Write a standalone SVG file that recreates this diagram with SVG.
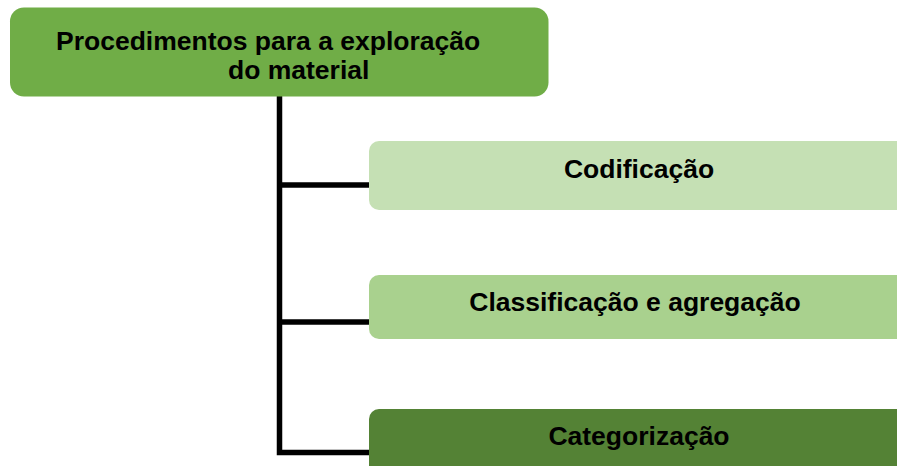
<svg xmlns="http://www.w3.org/2000/svg" width="897" height="466" viewBox="0 0 897 466">
<style>
.t{font-family:"Liberation Sans",Arial,sans-serif;font-weight:bold;font-size:26.5px;fill:#000}
.c{fill:none;stroke:#000;stroke-width:5.5}
</style>
<rect width="897" height="466" fill="#fff"/>
<g id="connectors">
<path class="c" d="M279.5 96 V452.5 H372"/>
<path class="c" d="M279.5 185 H372"/>
<path class="c" d="M279.5 322 H372"/>
</g>
<g id="root">
<rect x="10" y="7.5" width="538.5" height="89" rx="14" fill="#70AD47"/>
<text class="t" x="56" y="49.5">Procedimentos para a exploração</text>
<text class="t" x="228" y="79">do material</text>
</g>
<g id="n1">
<rect x="369" y="141" width="560" height="69" rx="10" fill="#C5E0B4"/>
<text class="t" x="639" y="178" text-anchor="middle">Codificação</text>
</g>
<g id="n2">
<rect x="369" y="275" width="560" height="64" rx="10" fill="#A9D18E"/>
<text class="t" x="635" y="311" text-anchor="middle">Classificação e agregação</text>
</g>
<g id="n3">
<rect x="369" y="409" width="560" height="80" rx="10" fill="#548235"/>
<text class="t" x="639" y="445" text-anchor="middle">Categorização</text>
</g>
</svg>
